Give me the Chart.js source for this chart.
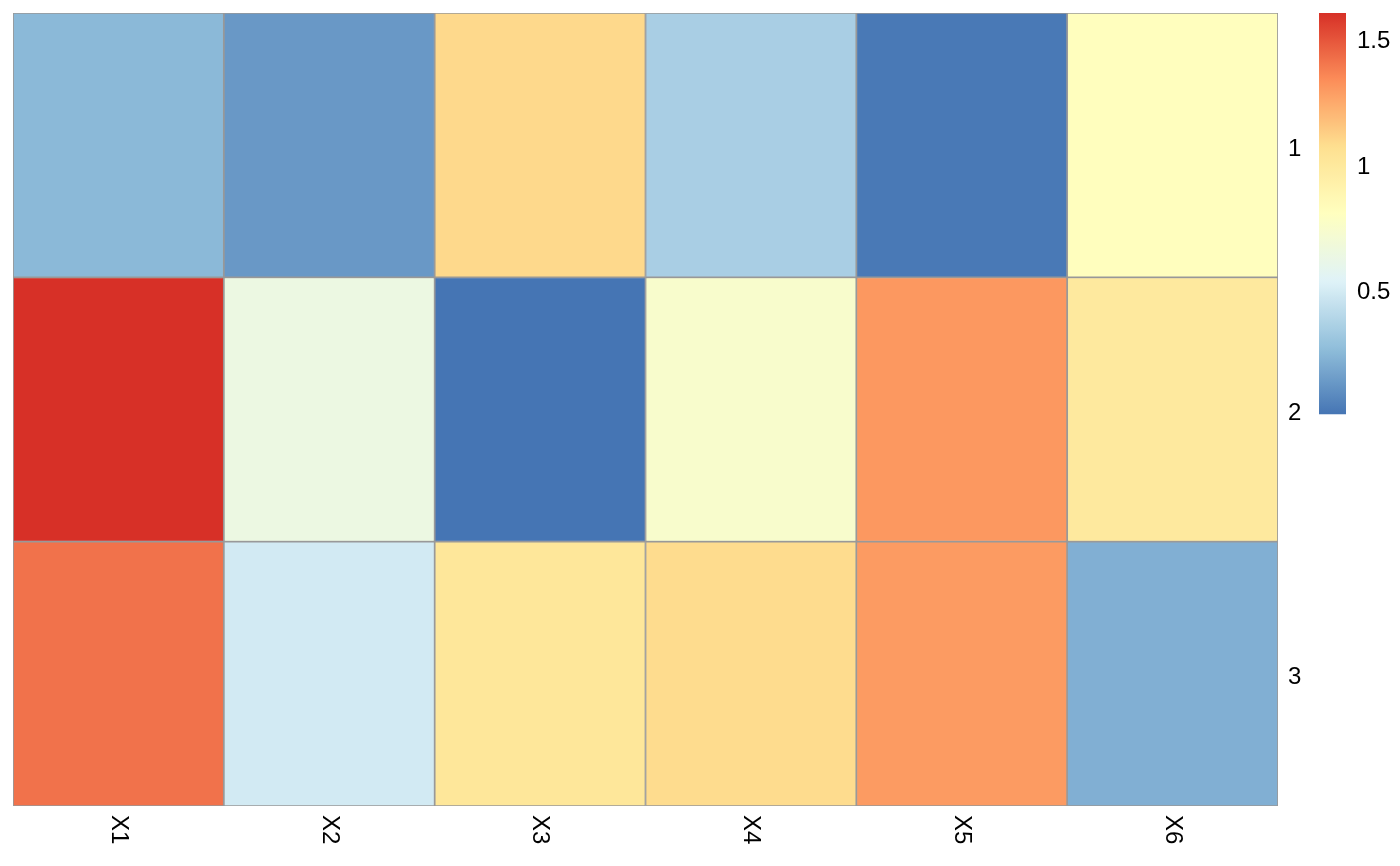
<!DOCTYPE html>
<html>
<head>
<meta charset="utf-8">
<title>Heatmap</title>
<script src="https://cdn.jsdelivr.net/npm/chart.js@4"></script>
<style>
  html, body { margin: 0; padding: 0; background: #fff; }
  #wrap { width: 1400px; height: 866px; position: relative; }
</style>
</head>
<body>
<div id="wrap"><canvas id="heatmap"></canvas></div>
<script>
const columns = ["X1", "X2", "X3", "X4", "X5", "X6"];
const rows = ["1", "2", "3"];
const row1 = [0.25, 0.13, 1.09, 0.35, 0.02, 0.81];
const row2 = [1.60, 0.64, 0.005, 0.74, 1.30, 0.99];
const row3 = [1.41, 0.49, 1.01, 1.08, 1.29, 0.215];
const legendTicks = [0.5, 1, 1.5];
// rev(RdYlBu 7)
const palette = ["#4575B4", "#91BFDB", "#E0F3F8", "#FFFFBF", "#FEE090", "#FC8D59", "#D73027"];

const values = [row1, row2, row3];
const all = values.flat();
const vmin = Math.min(...all);
const vmax = Math.max(...all);

function hexRgb(h) {
  return [parseInt(h.slice(1, 3), 16), parseInt(h.slice(3, 5), 16), parseInt(h.slice(5, 7), 16)];
}

function colorFor(v) {
  let t = (v - vmin) / (vmax - vmin);
  t = Math.min(Math.max(t, 0), 1) * (palette.length - 1);
  const i = Math.min(Math.floor(t), palette.length - 2);
  const f = t - i;
  const a = hexRgb(palette[i]);
  const b = hexRgb(palette[i + 1]);
  const c = a.map((x, k) => Math.round(x + (b[k] - x) * f));
  return "rgb(" + c.join(",") + ")";
}

const FAMILY = '"Liberation Sans", Arial, sans-serif';
const FONT = "24px " + FAMILY;

const datasets = values.map((vals, r) => ({
  label: rows[r],
  data: vals.map(() => [r, r + 1]),
  backgroundColor: vals.map(colorFor),
  borderColor: "#999999",
  borderWidth: 1.2,
  borderSkipped: false,
  barPercentage: 1,
  categoryPercentage: 1,
  grouped: false,
}));

const extras = {
  id: "extras",
  afterDraw(chart) {
    const ctx = chart.ctx;
    const area = chart.chartArea;
    const xs = chart.scales.x;
    ctx.save();
    ctx.fillStyle = "#000";
    ctx.font = FONT;

    // column labels, rotated to read downward
    columns.forEach((lab, i) => {
      const x = xs.getPixelForValue(i);
      ctx.save();
      ctx.translate(x, area.bottom + 9);
      ctx.rotate(Math.PI / 2);
      ctx.textAlign = "left";
      ctx.textBaseline = "middle";
      ctx.fillText(lab, 0, 0);
      ctx.restore();
    });

    // colour key
    const lx = area.right + 41;
    const lw = 27;
    const top = area.top;
    const bottom = area.top + (area.bottom - area.top) * 0.506;
    const grad = ctx.createLinearGradient(0, bottom, 0, top);
    const steps = 100;
    for (let s = 0; s <= steps; s++) {
      grad.addColorStop(s / steps, colorFor(vmin + (vmax - vmin) * s / steps));
    }
    ctx.fillStyle = grad;
    ctx.fillRect(lx, top, lw, bottom - top);

    ctx.fillStyle = "#000";
    ctx.textAlign = "left";
    ctx.textBaseline = "middle";
    legendTicks.forEach(v => {
      const y = bottom - (v - vmin) / (vmax - vmin) * (bottom - top);
      ctx.fillText(String(v), lx + lw + 11, y + 3);
    });
    ctx.restore();
  }
};

new Chart(document.getElementById("heatmap").getContext("2d"), {
  type: "bar",
  data: { labels: columns, datasets: datasets },
  options: {
    responsive: true,
    maintainAspectRatio: false,
    animation: false,
    layout: { padding: { top: 13, left: 13, right: 0, bottom: 0 } },
    plugins: {
      legend: { display: false },
      tooltip: { enabled: false },
    },
    scales: {
      x: {
        type: "category",
        grid: { display: false, drawTicks: false },
        border: { display: false },
        ticks: { display: false },
        afterFit(scale) { scale.height = 60; },
      },
      y: {
        type: "linear",
        position: "right",
        min: 0,
        max: 3,
        reverse: true,
        grid: { display: false, drawTicks: false },
        border: { display: false },
        afterBuildTicks(scale) {
          scale.ticks = rows.map((r, i) => ({ value: i + 0.5 }));
        },
        afterFit(scale) {
          scale.width = 122;
          scale.paddingTop = 0;
          scale.paddingBottom = 0;
        },
        ticks: {
          padding: 10,
          labelOffset: 4,
          crossAlign: "near",
          color: "#000",
          font: { family: FAMILY, size: 24 },
          callback(value) { return rows[Math.floor(value)]; },
        },
      },
    },
  },
  plugins: [extras],
});
</script>
</body>
</html>
